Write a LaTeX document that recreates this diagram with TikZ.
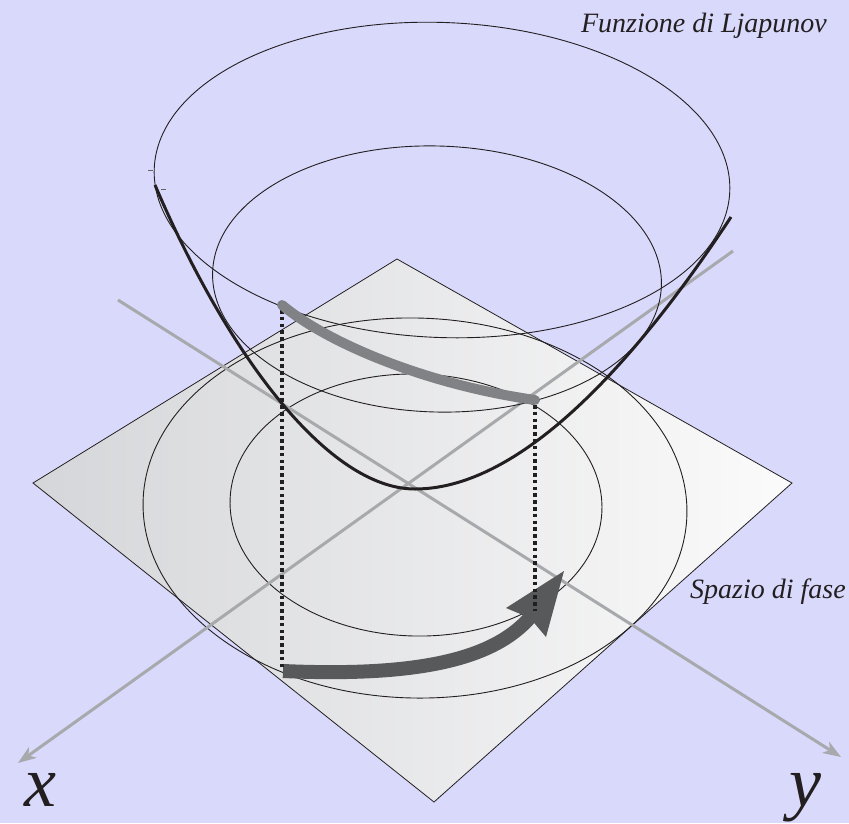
\documentclass[tikz,border=0pt]{standalone}
\usepackage{fontspec}
\setmainfont{Liberation Serif}
\usetikzlibrary{arrows.meta}
\definecolor{bg}{RGB}{217,217,252}
\definecolor{ink}{RGB}{35,31,32}
\definecolor{axisgray}{RGB}{167,169,172}
\definecolor{trajgray}{RGB}{128,130,133}
\definecolor{arrowdark}{RGB}{88,89,91}
\definecolor{planeL}{RGB}{213,214,217}
\definecolor{planeR}{RGB}{251,251,251}
\begin{document}
\begin{tikzpicture}[x=1pt,y=-1pt,
  level/.style={draw=ink, line width=0.9pt},
  axisline/.style={draw=axisgray, line width=3pt, -{Stealth[length=18pt,width=13pt,inset=5pt]}},
  lbl/.style={font=\itshape\fontsize{28}{30}\selectfont, text=ink, inner sep=0pt},
  axlbl/.style={font=\itshape\fontsize{72}{76}\selectfont, text=ink, inner sep=0pt},
  dotline/.style={draw=ink, line width=3.4pt, dash pattern=on 3.5pt off 3.3pt},
  tickmark/.style={draw=ink!70, line width=0.6pt}]
\fill[bg] (0,0) rectangle (849,823);
\useasboundingbox (0,0) rectangle (849,823);
% plane
\coordinate (pT) at (397,259);
\coordinate (pR) at (792,483);
\coordinate (pB) at (434,802);
\coordinate (pL) at (33,483);
\path[left color=planeL, right color=planeR, draw=ink, line width=0.8pt] (pT) -- (pR) -- (pB) -- (pL) -- cycle;
% level curves on the plane
\draw[level, rotate around={-1.4:(415,508)}] (415,508) ellipse [x radius=272, y radius=190];
\draw[level, rotate around={-1.5:(416,505)}] (416,505) ellipse [x radius=186, y radius=131];
% axes
\coordinate (xs) at (733,251);
\coordinate (xe) at (18,763);
\coordinate (ys) at (118,300);
\coordinate (ye) at (841,757);
\draw[axisline] (xs) -- (xe);
\draw[axisline] (ys) -- (ye);
% level curves on the surface
\draw[level, rotate around={-2.3:(442,180)}] (442,180) ellipse [x radius=288, y radius=157.5];
\draw[level, rotate around={-1.7:(437,279)}] (437,279) ellipse [x radius=224.5, y radius=133];
\draw[tickmark] (148,170) -- (153,170);
\draw[tickmark] (161,189) -- (166,189);
% Lyapunov function profile
\coordinate (k0) at (155,185);
\coordinate (km) at (415,489);
\coordinate (k1) at (731,217);
\draw[ink, line width=3pt] (k0) .. controls (230,360) and (330,489) .. (km) .. controls (530,489) and (650,340) .. (k1);
% trajectory on the plane
\coordinate (a0) at (283,671);
\coordinate (a1) at (536,610);
\coordinate (atip) at (564,571);
\coordinate (abl) at (506,608);
\coordinate (ain) at (530,618);
\coordinate (abr) at (546,637);
\draw[arrowdark, line width=14pt] (a0) .. controls (440,678) and (505,652) .. (a1);
\fill[arrowdark] (atip) -- (abl) -- (ain) -- (abr) -- cycle;
% projections
\coordinate (d1a) at (282,310);
\coordinate (d1b) at (282,668);
\coordinate (d2a) at (535,405);
\coordinate (d2b) at (535,611);
\draw[dotline] (d1a) -- (d1b);
\draw[dotline] (d2a) -- (d2b);
% trajectory on the surface
\coordinate (g0) at (282,305);
\coordinate (g1) at (535,400);
\draw[trajgray, line width=10pt, line cap=round] (g0) .. controls (330,345) and (430,385) .. (g1);
% labels
\node[lbl, anchor=base east] (lf) at (827,32) {Funzione di Ljapunov};
\node[lbl, anchor=base west] (ls) at (690,598) {Spazio di fase};
\node[axlbl, anchor=base] (lx) at (40,806) {x};
\node[axlbl, anchor=base] (ly) at (805,806) {y};
\end{tikzpicture}
\end{document}
